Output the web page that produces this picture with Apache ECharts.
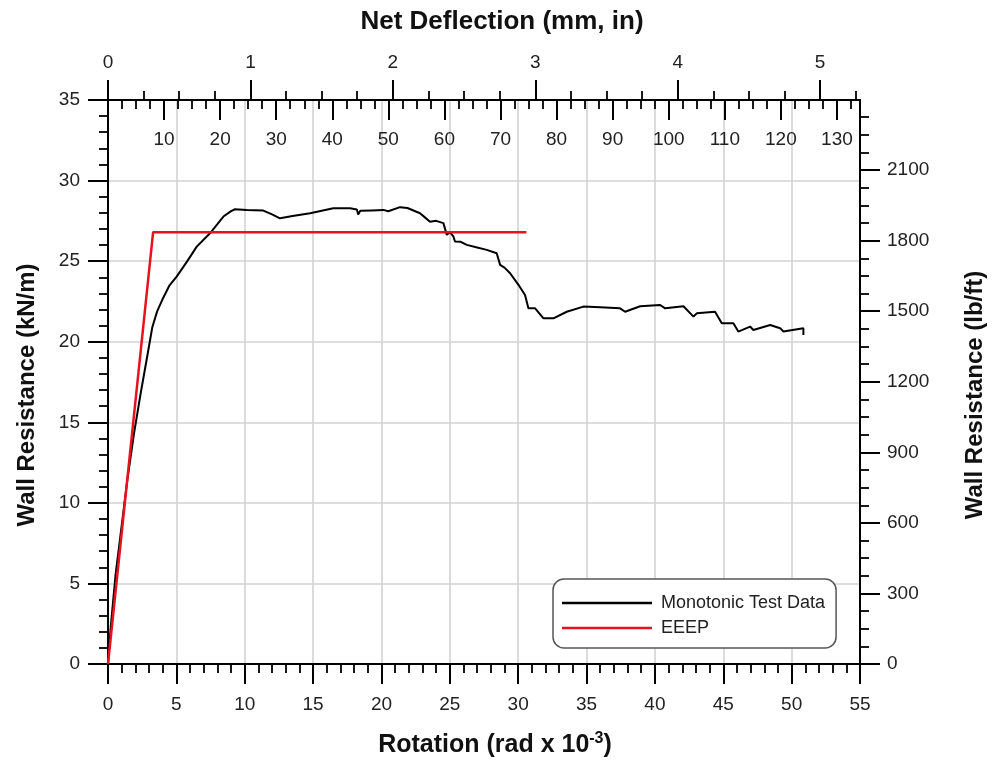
<!DOCTYPE html>
<html><head><meta charset="utf-8">
<script src="https://cdn.jsdelivr.net/npm/echarts@6/dist/echarts.min.js"></script>
<style>html,body{margin:0;padding:0;background:#fff}#c{width:992px;height:766px}</style>
</head><body><div id="c"></div>
<script>
// ---- data ----
const rotation = [0, 0.2, 0.56, 0.93, 1.41, 1.9, 2.39, 2.87, 3.24, 3.6, 3.97, 4.5, 5.02, 5.8, 6.49, 7.46, 8.0, 8.44, 9.0, 9.29, 10.14, 11.36, 12.0, 12.58, 13.5, 14.78, 16.48, 17.7, 18.2, 18.3, 18.45, 19.3, 20.14, 20.5, 21.36, 21.9, 22.82, 23.2, 23.55, 24.0, 24.53, 24.78, 25.0, 25.26, 25.38, 25.8, 26.24, 27.0, 27.7, 28.43, 28.68, 29.0, 29.41, 30.02, 30.5, 30.75, 31.24, 31.85, 32.58, 33.55, 34.77, 35.99, 37.45, 37.82, 38.92, 40.38, 40.75, 42.09, 42.82, 43.06, 44.4, 44.89, 45.74, 46.1, 46.96, 47.2, 48.43, 49.16, 49.4, 50.86, 50.86];
const resistance = [0, 2.3, 5.6, 8.1, 11.4, 14.3, 16.8, 19.1, 20.9, 21.9, 22.6, 23.5, 24.04, 25.0, 25.9, 26.73, 27.3, 27.77, 28.1, 28.22, 28.18, 28.14, 27.9, 27.66, 27.8, 27.97, 28.28, 28.28, 28.2, 27.9, 28.12, 28.15, 28.18, 28.1, 28.35, 28.3, 27.97, 27.7, 27.45, 27.5, 27.36, 26.63, 26.8, 26.53, 26.22, 26.2, 26.01, 25.85, 25.7, 25.49, 24.77, 24.6, 24.25, 23.53, 22.9, 22.07, 22.07, 21.45, 21.45, 21.86, 22.18, 22.14, 22.07, 21.86, 22.2, 22.28, 22.07, 22.2, 21.56, 21.76, 21.86, 21.14, 21.14, 20.63, 20.94, 20.73, 21.04, 20.84, 20.63, 20.84, 20.42];
const eeepRotation = [0, 3.3, 30.6];
const eeepResistance = [0, 26.8, 26.8];
const seriesNames = ['Monotonic Test Data', 'EEEP'];

// ---- unit conversions ----
const KN_TO_LBF = 68.5218;      // kN/m -> lb/ft
const WALL_H_MM = 2438.4;       // rotation (rad) * height = deflection
const ROT_MAX = 55, KN_MAX = 35;
const MM_MAX = ROT_MAX * WALL_H_MM / 1000;
const IN_MAX = MM_MAX / 25.4;
const LB_MAX = KN_MAX * KN_TO_LBF;

const L = 108, T = 100, W = 752, H = 564, B = T + H;
const FONT = 'Liberation Sans, Arial, Helvetica, sans-serif';
const ink = '#000';
const lab = { color: '#222', fontSize: 19, fontFamily: FONT, formatter: v => String(v) };

const chart = echarts.init(document.getElementById('c'), null, { renderer: 'canvas' });

const hInMinor = 5.25, hInMajor = 5, lbMinorTop = 2325, lbMajorTop = 2100;
const grids = [
  { left: L, top: T, width: W, height: H },
  { left: L, top: T, width: W * hInMinor / IN_MAX, height: H },
  { left: L, top: T, width: W * hInMajor / IN_MAX, height: H },
  { left: L, top: B - H * lbMinorTop / LB_MAX, width: W, height: H * lbMinorTop / LB_MAX },
  { left: L, top: B - H * lbMajorTop / LB_MAX, width: W, height: H * lbMajorTop / LB_MAX }
].map(g => Object.assign(g, { outerBoundsMode: 'none', containLabel: false }));

const line = { show: true, onZero: false, lineStyle: { color: ink, width: 2 } };
const noLine = { show: false, onZero: false };

const option = {
  animation: false,
  backgroundColor: '#fff',
  grid: grids,
  xAxis: [
    { gridIndex: 0, type: 'value', position: 'bottom', min: 0, max: ROT_MAX, interval: 5,
      axisLine: line, axisTick: { show: true, length: 20, lineStyle: { color: ink, width: 2 } },
      minorTick: { show: true, splitNumber: 5, length: 9, lineStyle: { color: ink, width: 1.8 } },
      axisLabel: Object.assign({ margin: 31 }, lab),
      splitLine: { show: true, lineStyle: { color: '#d2d2d2', width: 1.6 } } },
    { gridIndex: 0, type: 'value', position: 'top', min: 0, max: MM_MAX, interval: 2.5,
      axisLine: line, axisTick: { show: true, inside: true, length: 9, lineStyle: { color: ink, width: 1.8 } },
      axisLabel: { show: false }, splitLine: { show: false } },
    { gridIndex: 0, type: 'value', position: 'top', min: 0, max: MM_MAX, interval: 10,
      axisLine: noLine, axisTick: { show: true, inside: true, length: 20, lineStyle: { color: ink, width: 2 } },
      axisLabel: Object.assign({ inside: true, margin: 30, showMinLabel: false, showMaxLabel: false }, lab),
      splitLine: { show: false } },
    { gridIndex: 1, type: 'value', position: 'top', min: 0, max: hInMinor, interval: 0.25,
      axisLine: noLine, axisTick: { show: true, length: 9, lineStyle: { color: ink, width: 1.8 } },
      axisLabel: { show: false }, splitLine: { show: false } },
    { gridIndex: 2, type: 'value', position: 'top', min: 0, max: hInMajor, interval: 1,
      axisLine: noLine, axisTick: { show: true, length: 20, lineStyle: { color: ink, width: 2 } },
      axisLabel: Object.assign({ margin: 28 }, lab), splitLine: { show: false } },
    { gridIndex: 3, type: 'value', show: false, axisLine: noLine },
    { gridIndex: 4, type: 'value', show: false, axisLine: noLine }
  ],
  yAxis: [
    { gridIndex: 0, type: 'value', position: 'left', min: 0, max: KN_MAX, interval: 5,
      axisLine: line, axisTick: { show: true, length: 20, lineStyle: { color: ink, width: 2 } },
      minorTick: { show: true, splitNumber: 5, length: 9, lineStyle: { color: ink, width: 1.8 } },
      axisLabel: Object.assign({ margin: 28 }, lab),
      splitLine: { show: true, lineStyle: { color: '#d2d2d2', width: 1.6 } } },
    { gridIndex: 0, type: 'value', position: 'right', min: 0, max: LB_MAX,
      axisLine: line, axisTick: { show: false }, axisLabel: { show: false }, splitLine: { show: false } },
    { gridIndex: 3, type: 'value', position: 'right', min: 0, max: lbMinorTop, interval: 75,
      axisLine: noLine, axisTick: { show: true, length: 9, lineStyle: { color: ink, width: 1.8 } },
      axisLabel: { show: false }, splitLine: { show: false } },
    { gridIndex: 4, type: 'value', position: 'right', min: 0, max: lbMajorTop, interval: 300,
      axisLine: noLine, axisTick: { show: true, length: 20, lineStyle: { color: ink, width: 2 } },
      axisLabel: Object.assign({ margin: 27 }, lab), splitLine: { show: false } },
    { gridIndex: 1, type: 'value', show: false, axisLine: noLine },
    { gridIndex: 2, type: 'value', show: false, axisLine: noLine }
  ],
  legend: {
    left: 553, top: 579, orient: 'vertical',
    padding: [15, 11, 11, 9], itemGap: 7,
    itemWidth: 90, itemHeight: 2.5, icon: 'rect',
    borderColor: '#555', borderWidth: 1.5, borderRadius: 11, backgroundColor: '#fff',
    textStyle: { color: '#222', fontSize: 18, fontFamily: FONT, lineHeight: 18, padding: [0, 0, 0, 4] },
    data: seriesNames
  },
  series: [
    { name: seriesNames[0], type: 'line', xAxisIndex: 0, yAxisIndex: 0, symbol: 'none',
      lineStyle: { color: '#000', width: 2 }, itemStyle: { color: '#000' },
      data: rotation.map((r, i) => [r, resistance[i]]) },
    { name: seriesNames[1], type: 'line', xAxisIndex: 0, yAxisIndex: 0, symbol: 'none',
      lineStyle: { color: '#e8121e', width: 2.5 }, itemStyle: { color: '#e8121e' },
      data: eeepRotation.map((r, i) => [r, eeepResistance[i]]) }
  ],
  graphic: [
    { type: 'text', x: 502, y: 22, style: { text: 'Net Deflection (mm, in)', font: 'bold 26px ' + FONT, fill: '#111', align: 'center', verticalAlign: 'middle', textAlign: 'center', textVerticalAlign: 'middle' } },
    { type: 'text', x: 495, y: 745, style: { text: '{a|Rotation (rad x 10}{s|-3}{a|)}', fill: '#111', align: 'center', verticalAlign: 'middle', textAlign: 'center', textVerticalAlign: 'middle',
        rich: { a: { font: 'bold 25px ' + FONT, fill: '#111', lineHeight: 28 }, s: { font: 'bold 16px ' + FONT, fill: '#111', verticalAlign: 'top', lineHeight: 18 } } } },
    { type: 'text', x: 27, y: 395, rotation: Math.PI / 2, style: { text: 'Wall Resistance (kN/m)', font: 'bold 24px ' + FONT, fill: '#111', align: 'center', verticalAlign: 'middle', textAlign: 'center', textVerticalAlign: 'middle' } },
    { type: 'text', x: 975, y: 395, rotation: Math.PI / 2, style: { text: 'Wall Resistance (lb/ft)', font: 'bold 24px ' + FONT, fill: '#111', align: 'center', verticalAlign: 'middle', textAlign: 'center', textVerticalAlign: 'middle' } }
  ]
};
chart.setOption(option);
</script></body></html>
